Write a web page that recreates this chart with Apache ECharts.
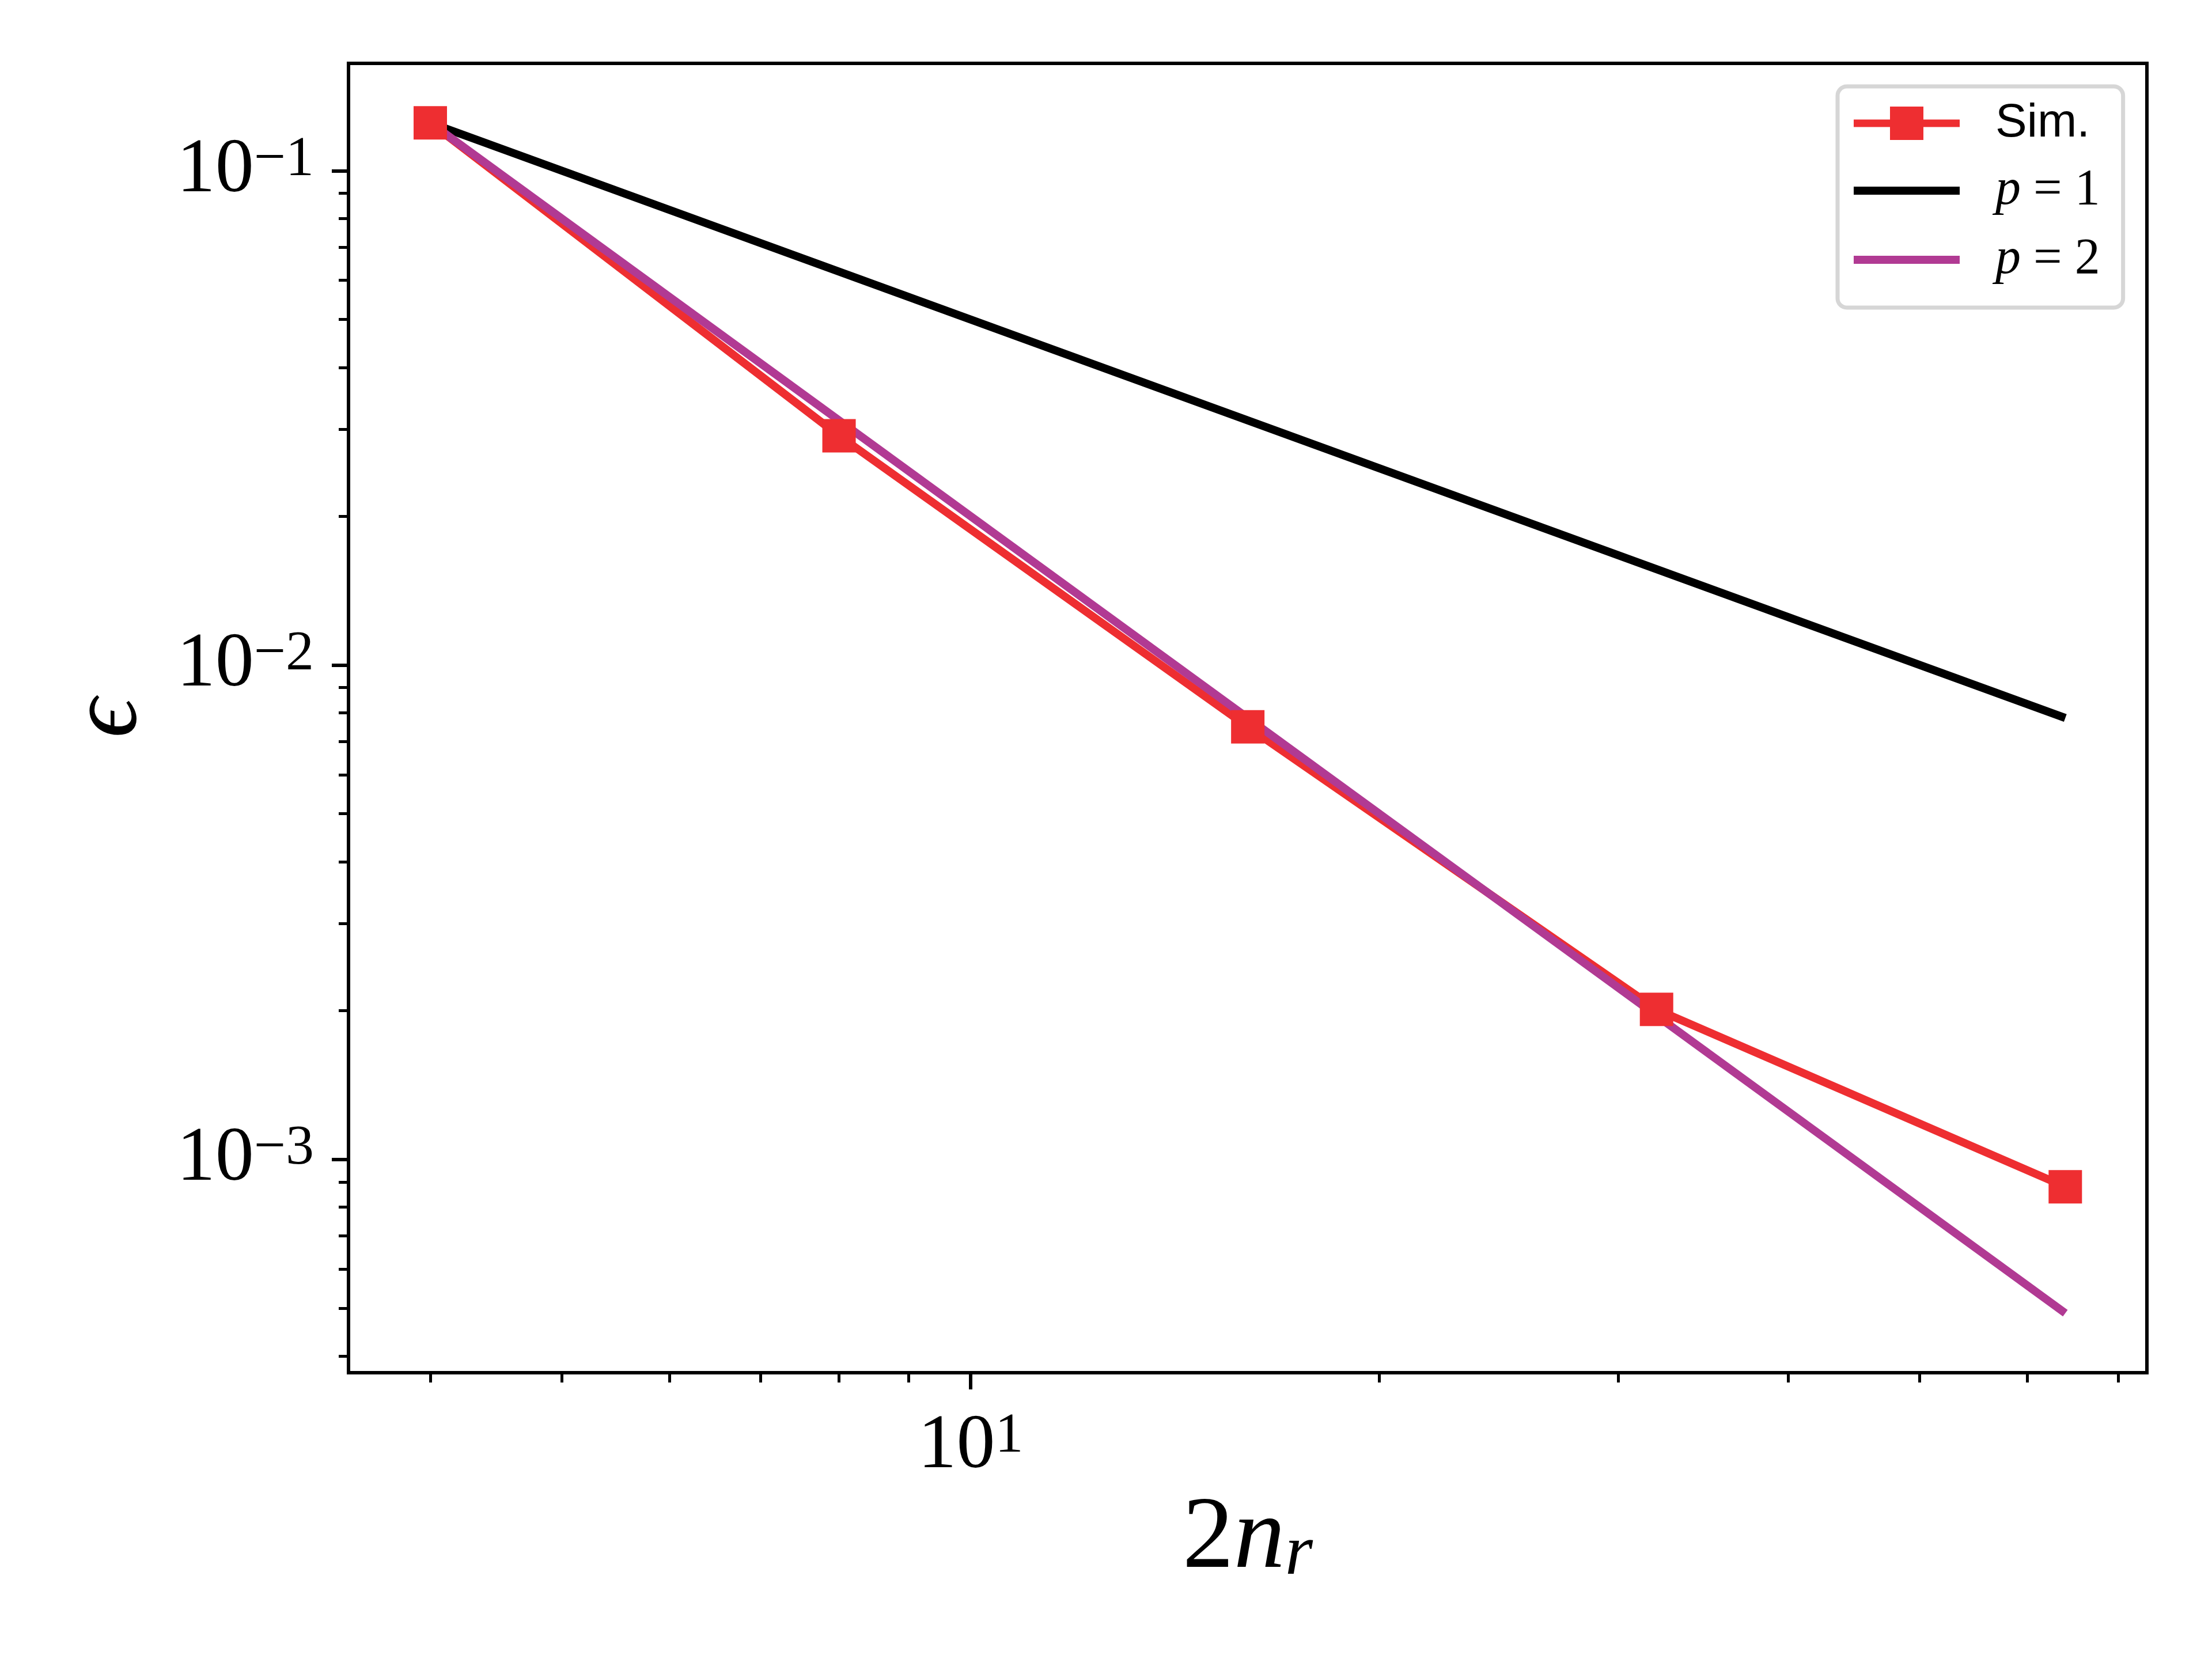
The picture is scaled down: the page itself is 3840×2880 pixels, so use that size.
<!DOCTYPE html>
<html>
<head>
<meta charset="utf-8">
<title>Convergence</title>
<script src="https://cdn.jsdelivr.net/npm/echarts@6/dist/echarts.min.js"></script>
<style>
html, body { margin: 0; padding: 0; background: #fff; }
#chart { width: 3840px; height: 2880px; }
</style>
</head>
<body>
<div id="chart"></div>
<script>
// 数据
//-------
var nValues = [4, 8, 16, 32, 64];
var simError = [0.125, 0.0291, 0.0075, 0.00201, 0.00088];

// 参考斜率线 (p = 1, p = 2)
var refX = [4, 64];
var refP1 = [0.125, 0.0078125];
var refP2 = [0.125, 0.00048828];

// 刻度
var xMajorTicks = [10];
var xMinorTicks = [4, 5, 6, 7, 8, 9, 20, 30, 40, 50, 60, 70];
var yMajorTicks = [0.001, 0.01, 0.1];
var yMinorTicks = [0.0004, 0.0005, 0.0006, 0.0007, 0.0008, 0.0009,
                   0.002, 0.003, 0.004, 0.005, 0.006, 0.007, 0.008, 0.009,
                   0.02, 0.03, 0.04, 0.05, 0.06, 0.07, 0.08, 0.09];
var xRange = [3.482, 73.5];
var yRange = [3.70e-4, 0.1649];

var serif = '"Liberation Serif", "DejaVu Serif", serif';
var red = '#ee2e31';
var purple = '#b13a93';
var lineW = 14;

// 图例图标 (线 + 方块 / 纯线)
var iconMarkerLine = 'path://M0,22.5H63V0H121V22.5H184V35.5H121V58H63V35.5H0Z';
var iconLine = 'path://M0,0H184V14H0Z';

var zip = function(xs, ys) {
  return xs.map(function(x, i) { return [x, ys[i]]; });
};

// 10 的幂次标签
var powLabel = function(v) {
  var e = Math.round(Math.log10(v));
  var exp = e < 0 ? '\u2212' + (-e) : String(e);
  return '{b|10}{s|' + exp + '}';
};

var tickRich = {
  b: { fontSize: 134, lineHeight: 134, fontFamily: serif, color: '#000' },
  s: { fontSize: 98, lineHeight: 36, verticalAlign: 'top', fontFamily: serif, color: '#000' }
};

var majorAxis = function(dim, range, ticks) {
  return {
    type: 'log',
    logBase: 10,
    min: range[0],
    max: range[1],
    axisLine: { show: false },
    splitLine: { show: false },
    axisTick: { show: true, customValues: ticks, length: 29, lineStyle: { color: '#000', width: 6 } },
    axisLabel: {
      customValues: ticks,
      formatter: powLabel,
      margin: dim === 'x' ? 62 : 60,
      rich: tickRich
    }
  };
};

var minorAxis = function(range, ticks, position) {
  return {
    type: 'log',
    logBase: 10,
    min: range[0],
    max: range[1],
    position: position,
    axisLine: { show: false },
    splitLine: { show: false },
    axisTick: { show: true, customValues: ticks, length: 17, lineStyle: { color: '#000', width: 5 } },
    axisLabel: { show: false }
  };
};

var xMain = majorAxis('x', xRange, xMajorTicks);
xMain.position = 'bottom';
xMain.name = '{n|2}{i|n}{s|r}';
xMain.nameLocation = 'middle';
xMain.nameGap = 160;
xMain.nameTextStyle = {
  rich: {
    n: { fontSize: 178, lineHeight: 178, fontFamily: serif, color: '#000' },
    i: { fontSize: 178, lineHeight: 178, fontFamily: serif, fontStyle: 'italic', color: '#000' },
    s: { fontSize: 124, lineHeight: 100, verticalAlign: 'bottom', fontFamily: serif, fontStyle: 'italic', color: '#000' }
  }
};

var yMain = majorAxis('y', yRange, yMajorTicks);
yMain.position = 'left';
yMain.name = '\u03f5';
yMain.nameLocation = 'middle';
yMain.nameRotate = 90;
yMain.nameGap = 330;
yMain.nameTextStyle = { fontSize: 170, fontFamily: serif, fontStyle: 'italic', color: '#000' };

var myChart = echarts.init(document.getElementById('chart'), null, { renderer: 'canvas', devicePixelRatio: 1 });

var option = {
  animation: false,
  backgroundColor: '#fff',
  grid: {
    left: 605, right: 113, top: 110, bottom: 497,
    show: true, borderColor: '#000', borderWidth: 6, backgroundColor: 'transparent'
  },
  legend: {
    orient: 'vertical',
    left: 3190,
    top: 150,
    padding: [23, 40, 39, 28],
    itemWidth: 184,
    itemHeight: 58,
    itemGap: 32,
    borderColor: '#d6d6d6',
    borderWidth: 7,
    borderRadius: 16,
    backgroundColor: '#fff',
    data: [
      { name: 'Sim.', icon: iconMarkerLine },
      { name: 'p = 1', icon: iconLine },
      { name: 'p = 2', icon: iconLine }
    ],
    formatter: function(name) {
      if (name === 'Sim.') return '{t|Sim.}';
      return '{i|p}{m| = ' + name.slice(-1) + '}';
    },
    textStyle: {
      padding: [0, 0, 0, 57],
      rich: {
        t: { fontSize: 82, lineHeight: 58, fontFamily: '"Liberation Sans", sans-serif', color: '#000' },
        i: { fontSize: 88, lineHeight: 58, fontFamily: serif, fontStyle: 'italic', color: '#000' },
        m: { fontSize: 88, lineHeight: 58, fontFamily: serif, color: '#000' }
      }
    }
  },
  xAxis: [xMain, minorAxis(xRange, xMinorTicks, 'bottom')],
  yAxis: [yMain, minorAxis(yRange, yMinorTicks, 'left')],
  series: [
    {
      name: 'Sim.',
      type: 'line',
      data: zip(nValues, simError),
      symbol: 'rect',
      symbolSize: 58,
      lineStyle: { color: red, width: lineW },
      itemStyle: { color: red }
    },
    {
      name: 'p = 1',
      type: 'line',
      data: zip(refX, refP1),
      symbol: 'none',
      lineStyle: { color: '#000', width: lineW },
      itemStyle: { color: '#000' }
    },
    {
      name: 'p = 2',
      type: 'line',
      data: zip(refX, refP2),
      symbol: 'none',
      lineStyle: { color: purple, width: lineW },
      itemStyle: { color: purple }
    }
  ]
};
myChart.setOption(option);
</script>
</body>
</html>
